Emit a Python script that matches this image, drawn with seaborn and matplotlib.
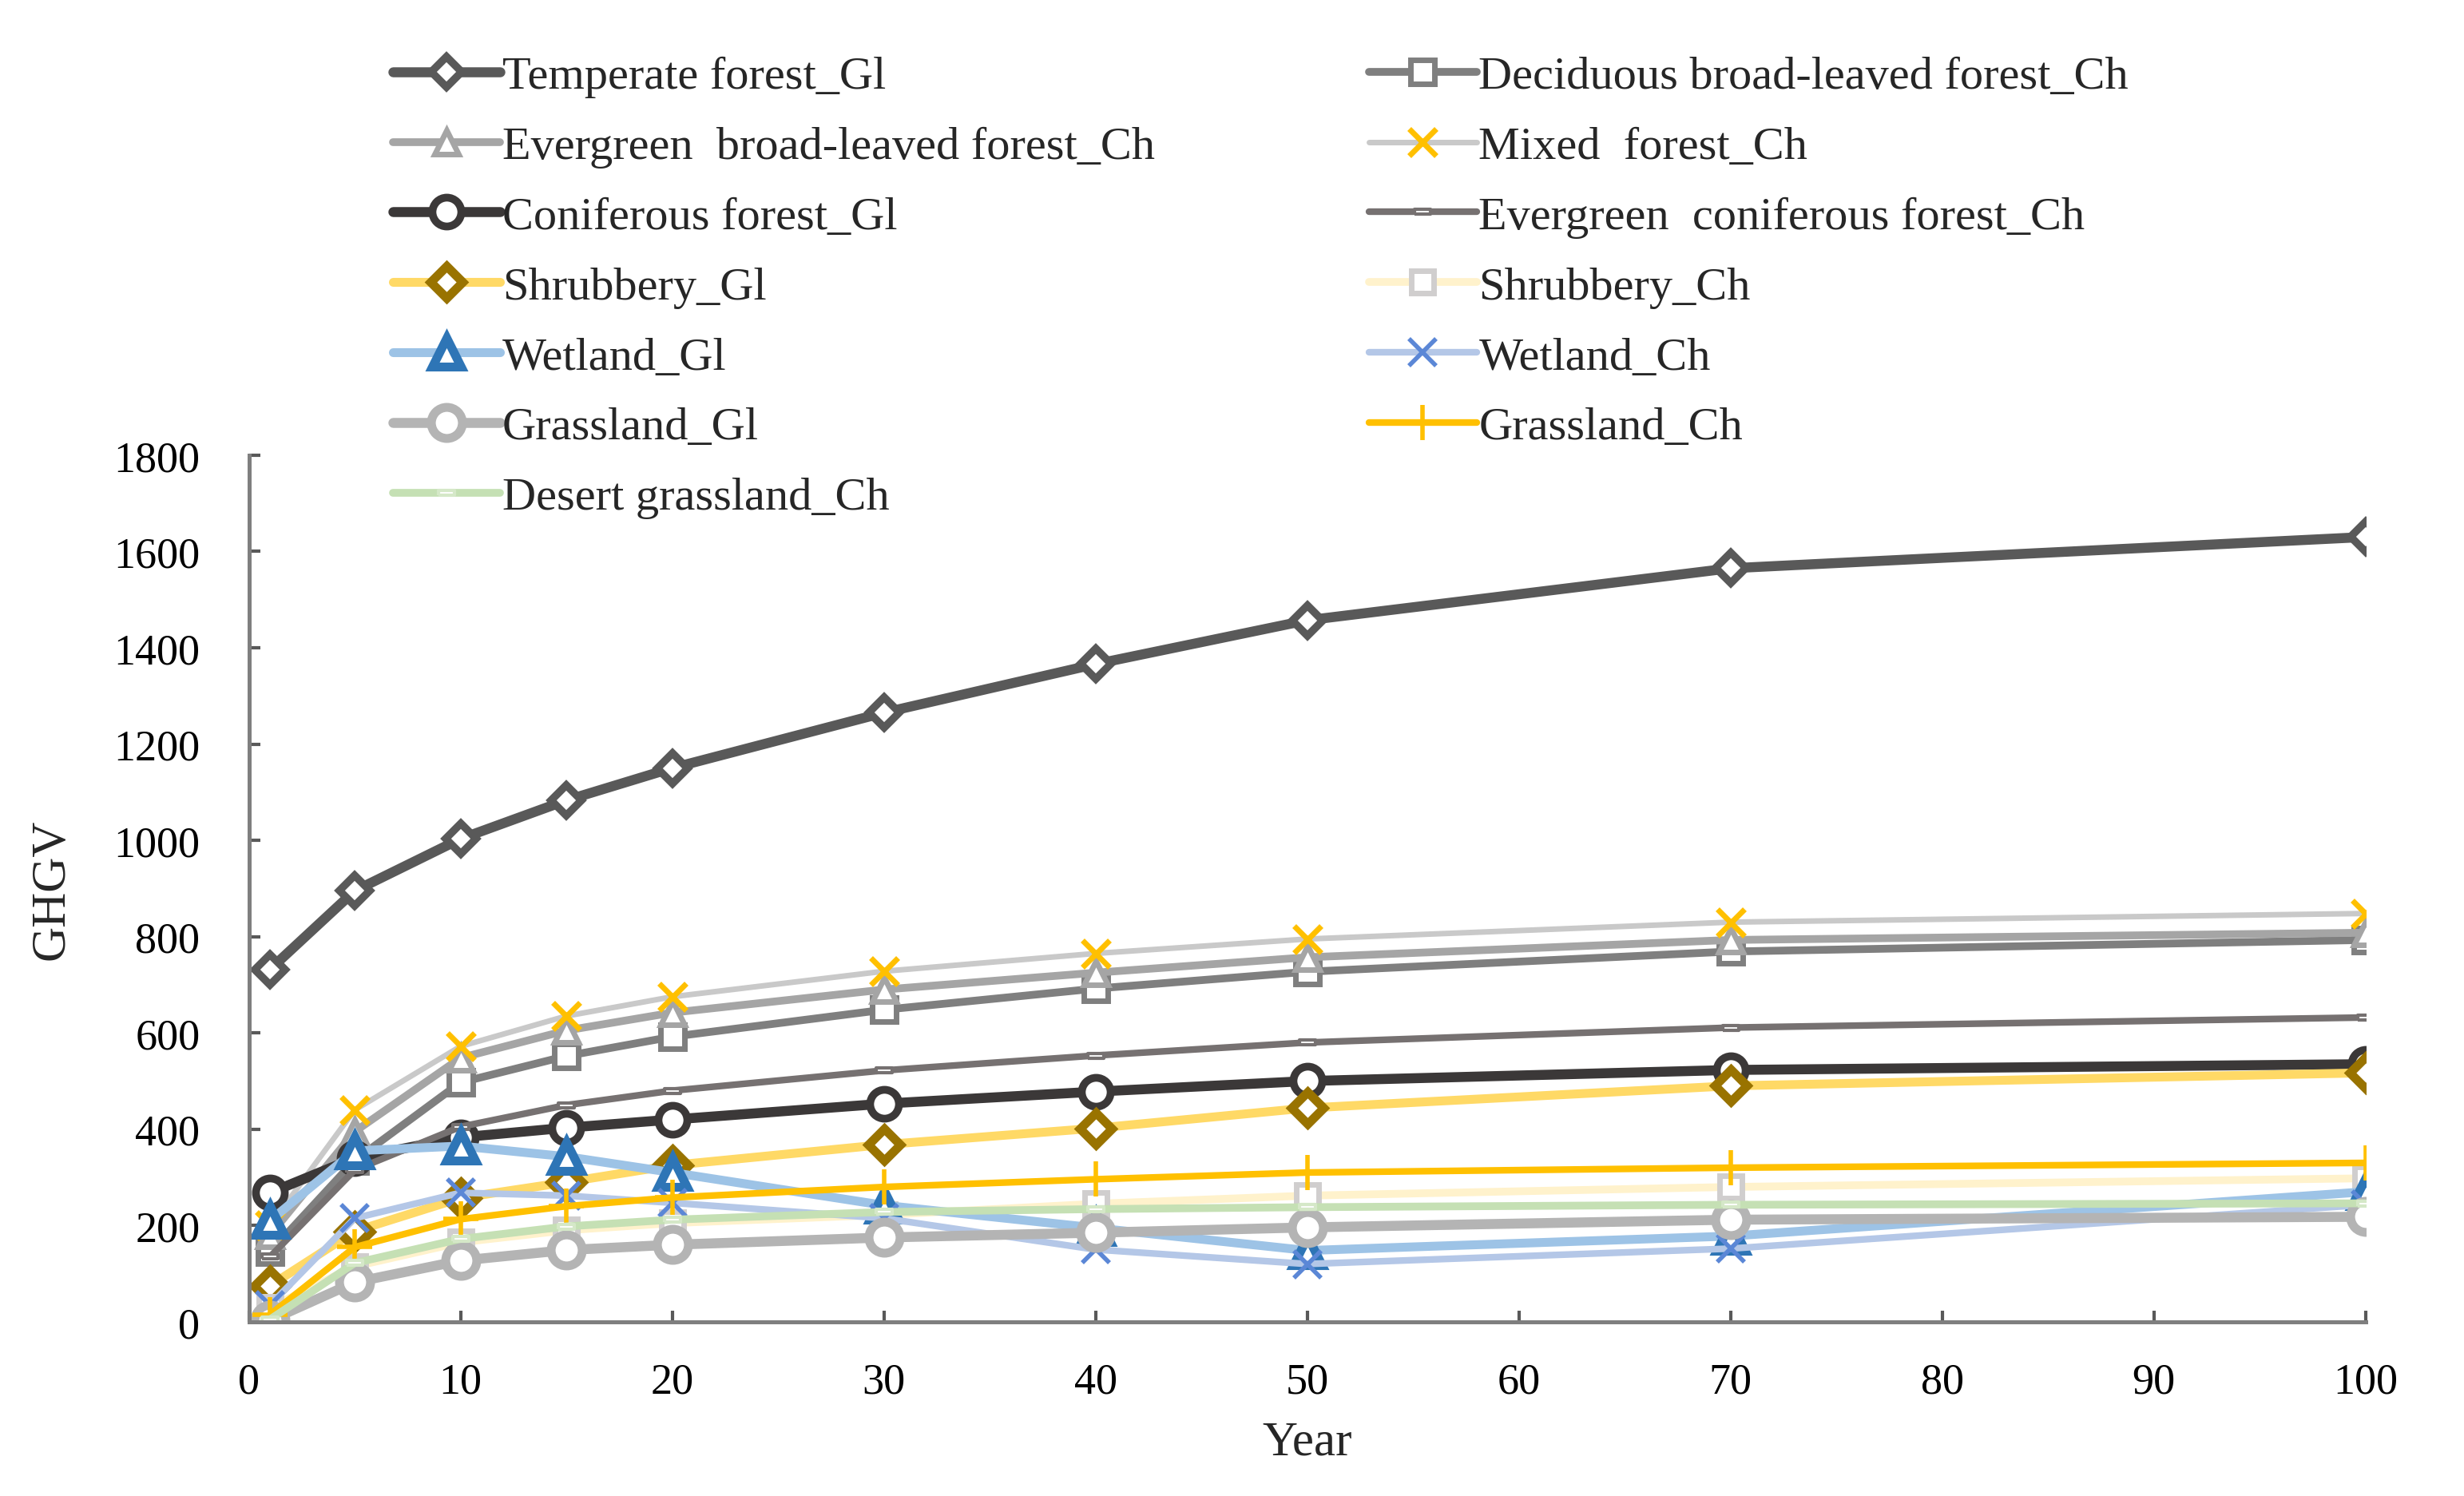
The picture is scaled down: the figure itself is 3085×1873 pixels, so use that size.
import matplotlib
matplotlib.use("Agg")
import matplotlib.pyplot as plt
import seaborn as sns

# Data
years = [1, 5, 10, 15, 20, 30, 40, 50, 70, 100]

temperate_gl = [732, 895, 1003, 1083, 1150, 1265, 1366, 1457, 1565, 1630]
deciduous_ch = [145, 335, 497, 552, 592, 648, 692, 727, 769, 793]
evergreen_broad_ch = [180, 395, 548, 605, 642, 690, 725, 757, 793, 808]
mixed_ch = [200, 440, 572, 635, 675, 728, 765, 795, 830, 848]
coniferous_gl = [268, 340, 383, 403, 420, 453, 478, 500, 523, 535]
evergreen_conif_ch = [135, 315, 405, 450, 480, 522, 553, 580, 611, 632]
shrubbery_gl = [75, 188, 257, 290, 325, 368, 402, 444, 490, 517]
shrubbery_ch = [30, 115, 165, 190, 205, 222, 245, 262, 280, 298]
wetland_gl = [210, 355, 365, 343, 310, 242, 195, 148, 178, 270]
wetland_ch = [35, 215, 268, 262, 247, 215, 150, 120, 152, 243]
grassland_gl = [3, 82, 127, 149, 160, 175, 185, 196, 212, 218]
grassland_ch = [15, 155, 213, 240, 258, 280, 296, 310, 320, 330]
desert_ch = [5, 122, 172, 198, 212, 228, 234, 238, 243, 246]

labels = [
    "Temperate forest_Gl",
    "Deciduous broad-leaved forest_Ch",
    "Evergreen  broad-leaved forest_Ch",
    "Mixed  forest_Ch",
    "Coniferous forest_Gl",
    "Evergreen  coniferous forest_Ch",
    "Shrubbery_Gl",
    "Shrubbery_Ch",
    "Wetland_Gl",
    "Wetland_Ch",
    "Grassland_Gl",
    "Grassland_Ch",
    "Desert grassland_Ch",
]
values = [temperate_gl, deciduous_ch, evergreen_broad_ch, mixed_ch, coniferous_gl,
          evergreen_conif_ch, shrubbery_gl, shrubbery_ch, wetland_gl, wetland_ch,
          grassland_gl, grassland_ch, desert_ch]

# Styles
dash = [(-1, -0.35), (1, -0.35), (1, 0.35), (-1, 0.35), (-1, -0.35)]
styles = [
    dict(color="#595959", lw=4.5, marker="D", ms=9.5, mfc="white", mec="#595959", mew=3.5),
    dict(color="#7f7f7f", lw=3.5, marker="s", ms=11, mfc="white", mec="#7f7f7f", mew=2.5),
    dict(color="#a5a5a5", lw=3.5, marker="^", ms=11, mfc="white", mec="#a5a5a5", mew=2.5),
    dict(color="#c9c9c9", lw=2.5, marker="x", ms=12, mfc="#ffc000", mec="#ffc000", mew=2.5),
    dict(color="#3b3838", lw=4.5, marker="o", ms=13, mfc="white", mec="#3b3838", mew=3.5),
    dict(color="#767171", lw=3.0, marker=dash, ms=7, mfc="white", mec="#767171", mew=1.5),
    dict(color="#ffd966", lw=4.0, marker="D", ms=10, mfc="white", mec="#997300", mew=4),
    dict(color="#fff2cc", lw=3.5, marker="s", ms=10, mfc="white", mec="#d0cece", mew=2.5),
    dict(color="#9dc3e6", lw=4.0, marker="^", ms=13, mfc="white", mec="#2e75b6", mew=4),
    dict(color="#b4c7e7", lw=3.0, marker="x", ms=12, mfc="#5b87d6", mec="#5b87d6", mew=2),
    dict(color="#b4b4b4", lw=4.5, marker="o", ms=14, mfc="white", mec="#b4b4b4", mew=4),
    dict(color="#ffc000", lw=3.0, marker="+", ms=16, mfc="#ffc000", mec="#ffc000", mew=2),
    dict(color="#c5e0b4", lw=3.5, marker=dash, ms=7, mfc="white", mec="#d5e8c8", mew=1.5),
]

sns.set_style("ticks")
plt.rcParams["font.family"] = ["Liberation Serif", "DejaVu Serif"]

fig = plt.figure(figsize=(15.425, 9.37), dpi=200)
ax = fig.add_axes([0.101, 0.1164, 0.859, 0.579])

handles = []
for lab, vals, st in zip(labels, values, styles):
    sns.lineplot(x=years, y=vals, ax=ax, label=lab, color=st["color"], linewidth=st["lw"],
                 marker=st["marker"], markersize=st["ms"], markerfacecolor=st["mfc"],
                 markeredgecolor=st["mec"], markeredgewidth=st["mew"], legend=False)
    handles.append(ax.lines[-1])

ax.set_xlim(0, 100)
ax.set_ylim(0, 1800)
ax.set_xticks(range(0, 101, 10))
ax.set_yticks(range(0, 1801, 200))
ax.set_xlabel("Year", fontsize=22, labelpad=8)
ax.set_ylabel("GHGV", fontsize=22, labelpad=18)

for s in ["top", "right"]:
    ax.spines[s].set_visible(False)
for s in ["left", "bottom"]:
    ax.spines[s].set_color("#7f7f7f")
    ax.spines[s].set_linewidth(1.8)
ax.tick_params(axis="both", direction="in", length=5, width=1.5, color="#595959",
               labelsize=19.5, labelcolor="black")
ax.tick_params(axis="y", pad=22)
ax.tick_params(axis="x", pad=18)

# Legend: Excel fills row by row, matplotlib column by column
left_col = handles[0::2]
right_col = handles[1::2]
order = left_col + right_col
fig.legend(handles=order, labels=[h.get_label() for h in order], loc="upper left",
           bbox_to_anchor=(0.150, 0.978), ncol=2, frameon=False, fontsize=21,
           handlelength=2.3, handletextpad=0.05, columnspacing=4.6, labelspacing=0.6,
           borderpad=0, numpoints=1)

fig.savefig("out.png", dpi=200)
plt.close(fig)
print("Saved plot: out.png")
